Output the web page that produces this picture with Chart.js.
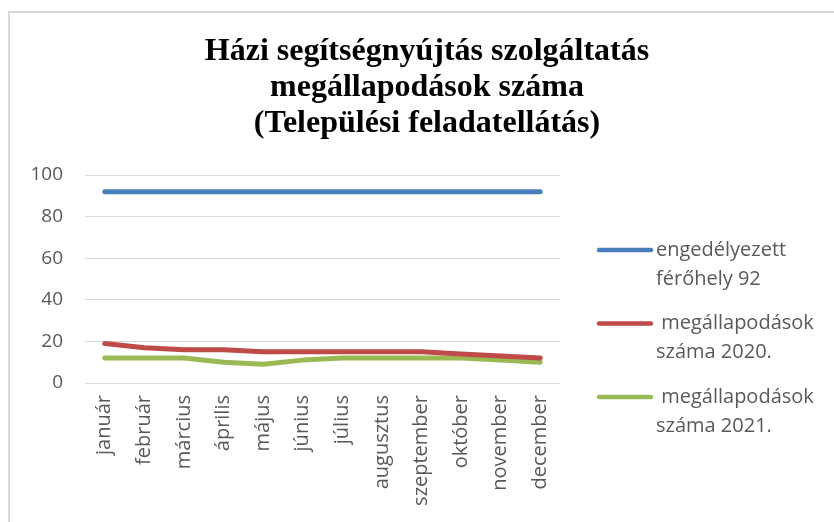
<!DOCTYPE html>
<html>
<head>
<meta charset="utf-8">
<script src="https://cdn.jsdelivr.net/npm/chart.js@4"></script>
<style>
  html, body { margin: 0; padding: 0; background: #fff; }
  body { width: 834px; height: 522px; position: relative; overflow: hidden; }
  #frame { position: absolute; left: 8px; top: 11px; width: 900px; height: 600px; border: 2px solid #d9d9d9; box-sizing: border-box; }
  #chart { position: absolute; left: 0; top: 0; }
</style>
</head>
<body>
<div id="frame"></div>
<canvas id="chart" width="834" height="522"></canvas>
<script>
// chart data
const months = ['január', 'február', 'március', 'április', 'május', 'június', 'július', 'augusztus', 'szeptember', 'október', 'november', 'december'];
const engedelyezett = [92, 92, 92, 92, 92, 92, 92, 92, 92, 92, 92, 92];
const szama2020 = [19, 17, 16, 16, 15, 15, 15, 15, 15, 14, 13, 12];
const szama2021 = [12, 12, 12, 10, 9, 11, 12, 12, 12, 12, 11, 10];
const seriesNames = [
    ['engedélyezett', 'férőhely 92'],
    [' megállapodások', 'száma 2020.'],
    [' megállapodások', 'száma 2021.']
];
const titleLines = ['Házi segítségnyújtás szolgáltatás', 'megállapodások száma', '(Települési feladatellátás)'];
const yTicks = [0, 20, 40, 60, 80, 100];

const textColor = '#595959';
const sansFont = "'Open Sans', 'Noto Sans', sans-serif";

// legend on the right, two lines per entry
const sideLegend = {
    id: 'sideLegend',
    afterDraw(chart) {
        const ctx = chart.ctx;
        ctx.save();
        ctx.font = '20px ' + sansFont;
        ctx.fillStyle = textColor;
        ctx.textAlign = 'left';
        ctx.textBaseline = 'middle';
        let y = 250;
        chart.data.datasets.forEach((ds, i) => {
            ctx.strokeStyle = ds.borderColor;
            ctx.lineWidth = 4.5;
            ctx.lineCap = 'round';
            ctx.beginPath();
            ctx.moveTo(599, y);
            ctx.lineTo(651, y);
            ctx.stroke();
            seriesNames[i].forEach((line, j) => {
                ctx.fillText(line, 656, y + j * 29);
            });
            y += 73.5;
        });
        ctx.restore();
    }
};

const ctx = document.getElementById('chart');
new Chart(ctx, {
    type: 'line',
    data: {
        labels: months,
        datasets: [
            { label: seriesNames[0].join(' '), data: engedelyezett, borderColor: '#4a7ebb', borderWidth: 5 },
            { label: seriesNames[1].join(' '), data: szama2020, borderColor: '#be4b48', borderWidth: 5 },
            { label: seriesNames[2].join(' '), data: szama2021, borderColor: '#98b954', borderWidth: 5 }
        ]
    },
    options: {
        responsive: false,
        animation: false,
        elements: { point: { radius: 0 }, line: { tension: 0, borderCapStyle: 'round', borderJoinStyle: 'round' } },
        layout: { padding: { left: 20, right: 0, top: 0, bottom: 0 } },
        plugins: {
            legend: { display: false },
            tooltip: { enabled: false },
            title: {
                display: true,
                text: titleLines,
                color: '#000',
                font: { family: "'Liberation Serif', 'DejaVu Serif', serif", size: 32, weight: 'bold', lineHeight: 1.125 },
                padding: { top: 34, bottom: 33 }
            }
        },
        scales: {
            x: {
                offset: true,
                grid: { display: false, drawTicks: false },
                border: { display: false },
                ticks: {
                    color: textColor,
                    font: { family: sansFont, size: 20 },
                    minRotation: 90,
                    maxRotation: 90,
                    autoSkip: false,
                    padding: 12
                },
                afterFit(scale) { scale.height = 139; }
            },
            y: {
                min: 0,
                max: 100,
                afterBuildTicks(scale) { scale.ticks = yTicks.map(v => ({ value: v })); },
                grid: { color: '#d9d9d9', lineWidth: 1, drawTicks: false },
                border: { display: false },
                ticks: {
                    color: textColor,
                    font: { family: sansFont, size: 19 },
                    padding: 22
                },
                afterFit(scale) { scale.width = 65; }
            },
            // empty axis on the right keeps room for the legend
            legendSpace: {
                type: 'linear',
                position: 'right',
                grid: { display: false, drawOnChartArea: false, drawTicks: false },
                border: { display: false },
                ticks: { display: false },
                afterFit(scale) { scale.width = 274; }
            }
        }
    },
    plugins: [sideLegend]
});
</script>
</body>
</html>
